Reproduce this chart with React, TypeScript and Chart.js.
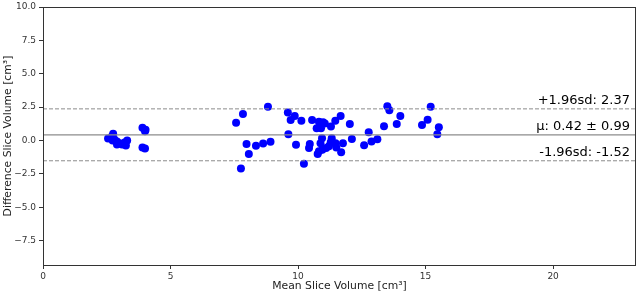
import React, { useEffect, useRef } from "react";
import { Chart, registerables } from "chart.js";

Chart.register(...registerables);

const meanVolume = [
  2.55, 2.7, 2.75, 2.8, 2.9, 3.0, 3.1, 3.2, 3.3, 3.25, 2.9, 2.73,
  3.9, 4.02, 4.0, 3.9, 4.0,
  7.57, 7.84, 8.82, 7.76, 7.98, 8.07, 8.35, 8.63, 8.92,
  9.6, 9.87, 9.71, 10.13, 9.62, 9.92, 10.23, 10.46, 10.43,
  10.55, 10.82, 10.98, 11.05, 10.73, 10.9, 10.94, 10.88, 10.82, 10.77,
  11.1, 11.21, 11.32, 11.28, 11.46, 11.29, 11.67, 11.47, 11.5, 11.69, 11.76, 12.03, 12.11,
  10.95, 12.77, 12.59, 12.88, 13.11,
  13.37, 13.5, 13.58, 14.01, 13.87, 14.86, 15.08, 15.2, 15.52, 15.46,
];
const diffVolume = [
  0.15, 0.3, 0.5, 0.07, -0.07, -0.2, -0.3, -0.15, 0.0, -0.37, -0.3, 0.0,
  0.96, 0.81, 0.7, -0.52, -0.6,
  1.33, 1.98, 2.52, -2.1, -0.27, -1.01, -0.4, -0.22, -0.1,
  2.1, 1.83, 1.53, 1.48, 0.47, -0.32, -1.75, -0.27, -0.57,
  1.53, 1.41, 1.36, 1.28, 0.91, 0.91, 0.17, -0.2, -0.81, -1.01,
  -0.57, -0.44, 0.17, -0.13, 1.48, 1.04, 1.83, -0.2, -0.52, -0.89, -0.2, 1.24, 0.12,
  -0.69, 0.61, -0.35, -0.07, 0.1,
  1.06, 2.57, 2.27, 1.83, 1.24, 1.16, 1.56, 2.52, 0.99, 0.47,
];

const meanDiff = 0.42;
const sdDiff = 0.99;
const upperLoA = 2.37;
const lowerLoA = -1.52;

const xRange = [0, 23.25];
const yRange = [-9.33, 10];
const xTicks = [0, 5, 10, 15, 20];
const yTicks = [-7.5, -5.0, -2.5, 0.0, 2.5, 5.0, 7.5, 10.0];

const refLabels = [
  { value: upperLoA, text: `+1.96sd: ${upperLoA.toFixed(2)}` },
  { value: meanDiff, text: `\u03bc: ${meanDiff.toFixed(2)} \u00b1 ${sdDiff.toFixed(2)}` },
  { value: lowerLoA, text: `-1.96sd: ${lowerLoA.toFixed(2)}` },
];

const FONT = "'DejaVu Sans', sans-serif";

const fmt = (v: number, d: number) => {
  const s = Math.abs(v).toFixed(d);
  return v < 0 ? "\u2212" + s : s;
};

export default function App() {
  const ref = useRef<HTMLCanvasElement | null>(null);

  useEffect(() => {
    document.body.style.margin = "0";
    const canvas = ref.current;
    if (!canvas) return;

    const framePlugin = {
      id: "frameAndLabels",
      afterDatasetsDraw(chart: any) {
        const { ctx, chartArea, scales } = chart;
        ctx.save();
        ctx.font = `13px ${FONT}`;
        ctx.fillStyle = "#000";
        ctx.textAlign = "right";
        ctx.textBaseline = "bottom";
        for (const l of refLabels) {
          const y = scales.y.getPixelForValue(l.value);
          ctx.fillText(l.text, chartArea.right - 6, y - 2);
        }
        ctx.strokeStyle = "#333";
        ctx.lineWidth = 1;
        ctx.strokeRect(
          Math.round(chartArea.left) + 0.5,
          Math.round(chartArea.top) + 0.5,
          Math.round(chartArea.right - chartArea.left) - 1,
          Math.round(chartArea.bottom - chartArea.top)
        );
        ctx.restore();
      },
    };

    const hline = (v: number, dash: number[], width: number) => ({
      type: "line" as const,
      data: [
        { x: xRange[0], y: v },
        { x: xRange[1], y: v },
      ],
      borderColor: "#8c8c8c",
      borderWidth: width,
      borderDash: dash,
      pointRadius: 0,
      showLine: true,
      fill: false,
    });

    const chart = new Chart(canvas, {
      type: "scatter",
      data: {
        datasets: [
          hline(meanDiff, [], 1.3),
          hline(upperLoA, [4, 2], 1),
          hline(lowerLoA, [4, 2], 1),
          {
            type: "scatter",
            data: meanVolume.map((x, i) => ({ x, y: diffVolume[i] })),
            backgroundColor: "#0000ff",
            borderWidth: 0,
            pointRadius: 4,
          } as any,
        ],
      },
      options: {
        animation: false,
        responsive: false,
        maintainAspectRatio: false,
        layout: { padding: { top: 0, right: 0, left: 0, bottom: 0 } },
        plugins: { legend: { display: false }, tooltip: { enabled: false } },
        scales: {
          x: {
            type: "linear",
            min: xRange[0],
            max: xRange[1],
            afterBuildTicks: (s: any) => {
              s.ticks = xTicks.map((v) => ({ value: v }));
            },
            afterFit: (s: any) => {
              s.height = 28;
            },
            grid: {
              display: true,
              drawOnChartArea: false,
              drawTicks: true,
              tickLength: 4,
              color: "#333",
            },
            border: { display: false },
            ticks: {
              font: { family: FONT, size: 9 },
              color: "#333",
              padding: 2,
              maxRotation: 0,
              callback: (v: any) => String(v),
            },
            title: {
              display: true,
              text: "Mean Slice Volume [cm\u00b3]",
              font: { family: FONT, size: 10.8 },
              color: "#222",
              padding: { top: 0, bottom: 0 },
            },
          },
          y: {
            type: "linear",
            min: yRange[0],
            max: yRange[1],
            afterBuildTicks: (s: any) => {
              s.ticks = yTicks.map((v) => ({ value: v }));
            },
            afterFit: (s: any) => {
              s.width = 43;
            },
            grid: {
              display: true,
              drawOnChartArea: false,
              drawTicks: true,
              tickLength: 4,
              color: "#333",
            },
            border: { display: false },
            ticks: {
              font: { family: FONT, size: 9, lineHeight: 0.9 },
              color: "#333",
              padding: 3,
              callback: (v: any) => fmt(Number(v), 1),
            },
            title: {
              display: true,
              text: "Difference Slice Volume [cm\u00b3]",
              font: { family: FONT, size: 10.8 },
              color: "#222",
              padding: { top: 2, bottom: 0 },
            },
          },
        },
      },
      plugins: [framePlugin],
    });

    return () => chart.destroy();
  }, []);

  return (
    <div style={{ position: "absolute", left: 0, top: 0, width: 640, height: 293 }}>
      <canvas ref={ref} width={640} height={293} style={{ width: 640, height: 293 }} />
    </div>
  );
}
